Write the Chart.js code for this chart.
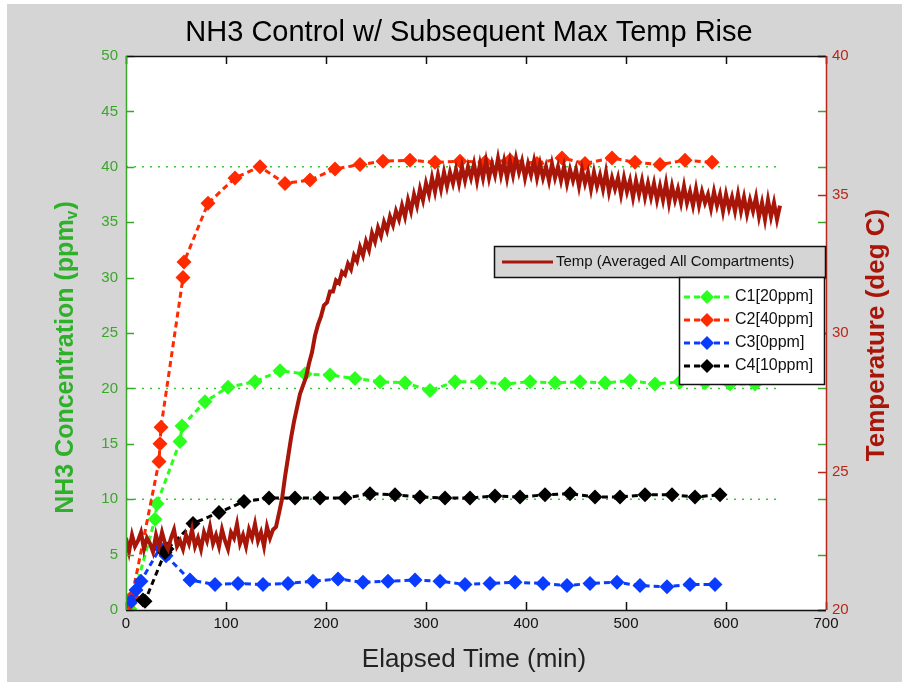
<!DOCTYPE html>
<html lang="en">
<head>
    <meta charset="utf-8">
    <title>NH3 Control w/ Subsequent Max Temp Rise</title>
    <style>
        * {
            padding: 0;
            margin: 0;
            box-sizing: border-box;
        }
        body {
            background: #ffffff;
            width: 902px;
            height: 682px;
            overflow: hidden;
        }
        #chart {
            display: block;
        }
    </style>
</head>
<body>
    <canvas id="chart" width="902" height="682"></canvas>

    <script src="https://cdn.jsdelivr.net/npm/chart.js@4.4.1/dist/chart.umd.min.js"></script>
    <script>
        // Concentration samples (minutes, ppmv)
        const timeC1 = [4, 29, 31, 54, 56, 79, 102, 129, 154, 179, 204, 229, 254, 279, 304, 329, 354, 379, 404, 429, 454, 479, 504, 529, 554, 579, 604, 629];
        const valC1 = [0.1, 8.2, 9.6, 15.2, 16.6, 18.8, 20.1, 20.6, 21.6, 21.3, 21.2, 20.9, 20.6, 20.5, 19.8, 20.6, 20.6, 20.4, 20.6, 20.5, 20.6, 20.5, 20.7, 20.4, 20.6, 20.5, 20.4, 20.4];

        const timeC2 = [4, 6, 33, 34, 35, 57, 58, 82, 109, 134, 159, 184, 209, 234, 257, 284, 309, 334, 359, 384, 411, 436, 459, 486, 509, 534, 559, 586];
        const valC2 = [0.6, 1.2, 13.4, 15.0, 16.5, 30.0, 31.4, 36.7, 39.0, 40.0, 38.5, 38.8, 39.8, 40.2, 40.5, 40.6, 40.4, 40.5, 40.4, 40.6, 40.3, 40.8, 40.3, 40.8, 40.4, 40.2, 40.6, 40.4];

        const timeC3 = [5, 10, 15, 34, 40, 64, 89, 112, 137, 162, 187, 212, 237, 262, 289, 314, 339, 364, 389, 417, 441, 464, 491, 514, 541, 564, 589];
        const valC3 = [0.8, 1.8, 2.6, 5.6, 4.9, 2.7, 2.3, 2.4, 2.3, 2.4, 2.6, 2.8, 2.5, 2.6, 2.7, 2.6, 2.3, 2.4, 2.5, 2.4, 2.2, 2.4, 2.5, 2.2, 2.1, 2.3, 2.3];

        const timeC4 = [17, 19, 39, 41, 67, 93, 118, 143, 169, 194, 219, 244, 269, 294, 319, 344, 369, 394, 419, 444, 469, 494, 519, 546, 569, 594];
        const valC4 = [0.9, 0.8, 5.2, 5.5, 7.8, 8.8, 9.8, 10.1, 10.1, 10.1, 10.1, 10.5, 10.4, 10.2, 10.1, 10.1, 10.3, 10.2, 10.4, 10.5, 10.2, 10.2, 10.4, 10.4, 10.2, 10.4];

        // Target levels drawn as dotted guides
        const targetLevels = [10, 20, 40];
        const targetSpan = [0, 655];

        // Averaged compartment temperature, one reading every 3 min from t = 0
        const tempStep = 3;
        const tempVals = [
            22.6, 22.1, 22.7, 22.3, 22.5, 22.8, 22.2, 22.6, 22.4, 22.1,
            22.7, 22.3, 22.8, 22.4, 22.2, 22.6, 22.9, 22.3, 22.5, 22.2,
            22.7, 22.4, 22.9, 22.3, 22.6, 22.2, 22.8, 22.5, 23.0, 22.4,
            22.7, 22.3, 22.9, 22.5, 22.2, 22.8, 22.6, 23.1, 22.4, 22.7,
            22.3, 22.9, 22.6, 23.1, 22.5, 22.8, 22.3, 23.0, 22.6, 22.9,
            23.0, 23.5, 24.0, 24.8, 25.5, 26.2, 26.8, 27.3, 27.8, 28.1,
            28.4, 28.9, 29.3, 29.9, 30.3, 30.6, 31.0, 31.1, 31.5, 31.5,
            31.9, 31.8, 32.2, 32.1, 32.5, 32.3, 32.8, 32.6, 33.1, 32.8,
            33.3, 33.0, 33.6, 33.3, 33.8, 33.5, 34.0, 33.7, 34.2, 33.9,
            34.4, 34.1, 34.6, 34.2, 34.8, 34.4, 35.0, 34.6, 35.2, 34.8,
            35.4, 35.0, 35.6, 35.1, 35.7, 35.2, 35.8, 35.3, 35.8, 35.4,
            35.9, 35.4, 36.0, 35.5, 36.0, 35.6, 36.1, 35.5, 36.1, 35.6,
            36.2, 35.6, 36.1, 35.7, 36.3, 35.7, 36.2, 35.6, 36.2, 35.7,
            36.3, 35.8, 36.2, 35.6, 36.1, 35.7, 36.2, 35.6, 36.1, 35.6,
            36.0, 35.5, 36.1, 35.6, 36.0, 35.5, 36.0, 35.4, 35.9, 35.5,
            35.9, 35.3, 35.9, 35.4, 35.8, 35.2, 35.8, 35.3, 35.7, 35.2,
            35.8, 35.1, 35.6, 35.2, 35.6, 35.0, 35.6, 35.1, 35.5, 34.9,
            35.5, 35.0, 35.5, 34.9, 35.4, 34.9, 35.4, 34.8, 35.3, 34.8,
            35.4, 34.7, 35.3, 34.8, 35.2, 34.7, 35.3, 34.7, 35.1, 34.6,
            35.2, 34.6, 35.1, 34.7, 35.0, 34.5, 35.1, 34.6, 35.0, 34.4,
            35.0, 34.5, 34.9, 34.4, 35.0, 34.4, 34.9, 34.3, 34.8, 34.4,
            34.9, 34.2, 34.7, 34.1, 34.8, 34.2, 34.7, 34.1, 34.6
        ];

        const colC1 = "#2bff1e";
        const colC2 = "#ff2a00";
        const colC3 = "#0a3cff";
        const colC4 = "#000000";
        const colTemp = "#a8160a";
        const colLeft = "#3aa62a";
        const colRight = "#b8281a";

        const pts = (xs, ys) => xs.map((x, i) => ({ x: x, y: ys[i] }));
        const tempPts = tempVals.map((v, i) => ({ x: i * tempStep, y: v }));

        const concSet = (label, xs, ys, color, order) => ({
            label: label,
            data: pts(xs, ys),
            yAxisID: "y",
            borderColor: color,
            backgroundColor: color,
            borderWidth: 3,
            borderDash: [6, 4],
            pointStyle: "rectRot",
            pointRadius: 7.5,
            pointBorderWidth: 0,
            pointBackgroundColor: color,
            order: order,
        });

        const datasets = [
            {
                label: "Temp (Averaged All Compartments)",
                data: tempPts,
                yAxisID: "y2",
                borderColor: colTemp,
                borderWidth: 4,
                pointRadius: 0,
                order: 0,
            },
            concSet("C1[20ppm]", timeC1, valC1, colC1, 4),
            concSet("C2[40ppm]", timeC2, valC2, colC2, 3),
            concSet("C3[0ppm]", timeC3, valC3, colC3, 2),
            concSet("C4[10ppm]", timeC4, valC4, colC4, 1),
        ];
        targetLevels.forEach((lvl) => {
            datasets.push({
                label: "target " + lvl,
                data: targetSpan.map((x) => ({ x: x, y: lvl })),
                yAxisID: "y",
                borderColor: "#3cc83c",
                borderWidth: 1.5,
                borderDash: [2, 6],
                pointRadius: 0,
                order: 10,
            });
        });

        const sans = '"Liberation Sans", Arial, sans-serif';

        // Background, axis box, inward ticks, titles and the two legend boxes
        const figure = {
            id: "figure",
            beforeDraw(chart) {
                const { ctx, chartArea: a } = chart;
                ctx.save();
                ctx.fillStyle = "#ffffff";
                ctx.fillRect(0, 0, chart.width, chart.height);
                ctx.fillStyle = "#d5d5d5";
                ctx.fillRect(7, 4, chart.width - 7, chart.height - 4);
                ctx.fillStyle = "#ffffff";
                ctx.fillRect(a.left, a.top, a.right - a.left, a.bottom - a.top);
                ctx.restore();
            },
            afterDatasetsDraw(chart) {
                const { ctx, chartArea: a, scales } = chart;
                const tick = 8;
                ctx.save();
                ctx.lineWidth = 1.5;

                // x ticks, bottom and top
                ctx.strokeStyle = "#111";
                scales.x.ticks.forEach((t) => {
                    const px = Math.round(scales.x.getPixelForValue(t.value)) + 0.5;
                    ctx.beginPath();
                    ctx.moveTo(px, a.bottom); ctx.lineTo(px, a.bottom - tick);
                    ctx.moveTo(px, a.top); ctx.lineTo(px, a.top + tick);
                    ctx.stroke();
                });
                // concentration ticks on both sides
                ctx.strokeStyle = colLeft;
                scales.y.ticks.forEach((t) => {
                    const py = Math.round(scales.y.getPixelForValue(t.value)) + 0.5;
                    ctx.beginPath();
                    ctx.moveTo(a.left, py); ctx.lineTo(a.left + tick, py);
                    ctx.moveTo(a.right, py); ctx.lineTo(a.right - tick, py);
                    ctx.stroke();
                });
                // temperature ticks on the right
                ctx.strokeStyle = colRight;
                scales.y2.ticks.forEach((t) => {
                    const py = Math.round(scales.y2.getPixelForValue(t.value)) + 0.5;
                    ctx.beginPath();
                    ctx.moveTo(a.right, py); ctx.lineTo(a.right - tick, py);
                    ctx.stroke();
                });

                // box
                ctx.strokeStyle = "#111";
                ctx.beginPath();
                ctx.moveTo(a.left, a.top + 0.5); ctx.lineTo(a.right, a.top + 0.5);
                ctx.moveTo(a.left, a.bottom + 0.5); ctx.lineTo(a.right, a.bottom + 0.5);
                ctx.stroke();
                ctx.strokeStyle = colLeft;
                ctx.beginPath();
                ctx.moveTo(a.left + 0.5, a.top); ctx.lineTo(a.left + 0.5, a.bottom);
                ctx.stroke();
                ctx.strokeStyle = colRight;
                ctx.beginPath();
                ctx.moveTo(a.right + 0.5, a.top); ctx.lineTo(a.right + 0.5, a.bottom);
                ctx.stroke();

                // temperature legend
                ctx.fillStyle = "#d5d5d5";
                ctx.fillRect(494, 246, 332, 31);
                ctx.strokeStyle = "#111";
                ctx.strokeRect(494.5, 246.5, 331, 31);
                ctx.strokeStyle = colTemp;
                ctx.lineWidth = 3;
                ctx.beginPath();
                ctx.moveTo(502, 262); ctx.lineTo(553, 262);
                ctx.stroke();
                ctx.fillStyle = "#111";
                ctx.font = "15px " + sans;
                ctx.textBaseline = "middle";
                ctx.textAlign = "left";
                ctx.fillText(datasets[0].label, 556, 262);

                // concentration legend
                ctx.fillStyle = "#ffffff";
                ctx.fillRect(679, 277, 146, 108);
                ctx.lineWidth = 1.5;
                ctx.strokeStyle = "#111";
                ctx.strokeRect(679.5, 277.5, 145, 107);
                const rows = [297, 320, 343, 366];
                [1, 2, 3, 4].forEach((di, k) => {
                    const ds = datasets[di];
                    const y = rows[k];
                    ctx.strokeStyle = ds.borderColor;
                    ctx.lineWidth = 3;
                    ctx.setLineDash([6, 4]);
                    ctx.beginPath();
                    ctx.moveTo(684, y); ctx.lineTo(729, y);
                    ctx.stroke();
                    ctx.setLineDash([]);
                    ctx.fillStyle = ds.borderColor;
                    ctx.beginPath();
                    ctx.moveTo(707, y - 7); ctx.lineTo(714, y); ctx.lineTo(707, y + 7); ctx.lineTo(700, y);
                    ctx.closePath();
                    ctx.fill();
                    ctx.fillStyle = "#111";
                    ctx.font = "16px " + sans;
                    ctx.fillText(ds.label, 735, y);
                });
                ctx.restore();
            },
            afterDraw(chart) {
                const { ctx } = chart;
                ctx.save();
                ctx.fillStyle = "#000";
                ctx.textAlign = "center";
                ctx.textBaseline = "alphabetic";
                ctx.font = "29px " + sans;
                ctx.fillText("NH3 Control w/ Subsequent Max Temp Rise", 469, 41);

                ctx.fillStyle = "#222";
                ctx.font = "26px " + sans;
                ctx.fillText("Elapsed Time (min)", 474, 667);

                // left axis title with subscript v
                ctx.save();
                ctx.translate(66, 358);
                ctx.rotate(-Math.PI / 2);
                ctx.textAlign = "left";
                ctx.textBaseline = "middle";
                ctx.fillStyle = "#2eb02a";
                const big = "bold 25px " + sans;
                const small = "bold 16px " + sans;
                const head = "NH3 Concentration (ppm";
                ctx.font = big;
                const wHead = ctx.measureText(head).width;
                const wClose = ctx.measureText(")").width;
                ctx.font = small;
                const wSub = ctx.measureText("v").width;
                let x0 = -(wHead + wSub + wClose) / 2;
                ctx.font = big;
                ctx.fillText(head, x0, 0);
                ctx.font = small;
                ctx.fillText("v", x0 + wHead, 7);
                ctx.font = big;
                ctx.fillText(")", x0 + wHead + wSub + 1, 0);
                ctx.restore();

                // right axis title
                ctx.save();
                ctx.translate(877, 335);
                ctx.rotate(-Math.PI / 2);
                ctx.textAlign = "center";
                ctx.textBaseline = "middle";
                ctx.fillStyle = colTemp;
                ctx.font = "bold 26px " + sans;
                ctx.fillText("Temperature (deg C)", 0, 0);
                ctx.restore();
                ctx.restore();
            },
        };

        new Chart(document.getElementById("chart"), {
            type: "line",
            data: { datasets: datasets },
            plugins: [figure],
            options: {
                responsive: false,
                animation: false,
                devicePixelRatio: 1,
                layout: { padding: { top: 56, left: 0, right: 0, bottom: 0 } },
                plugins: {
                    legend: { display: false },
                    tooltip: { enabled: false },
                    title: { display: false },
                },
                elements: { line: { tension: 0 } },
                scales: {
                    x: {
                        type: "linear",
                        min: 0,
                        max: 700,
                        grid: { display: false, drawTicks: false },
                        border: { display: false },
                        ticks: { stepSize: 100, color: "#111", padding: 5, font: { family: sans, size: 15 } },
                        afterFit: (s) => { s.height = 72; },
                    },
                    y: {
                        position: "left",
                        min: 0,
                        max: 50,
                        grid: { display: false, drawTicks: false },
                        border: { display: false },
                        ticks: { stepSize: 5, color: colLeft, padding: 8, font: { family: sans, size: 15 } },
                        afterFit: (s) => { s.width = 126; },
                    },
                    y2: {
                        position: "right",
                        min: 20,
                        max: 40,
                        grid: { display: false, drawTicks: false },
                        border: { display: false },
                        ticks: { stepSize: 5, color: colRight, padding: 6, font: { family: sans, size: 15 } },
                        afterFit: (s) => { s.width = 76; },
                    },
                },
            },
        });
    </script>
</body>
</html>
